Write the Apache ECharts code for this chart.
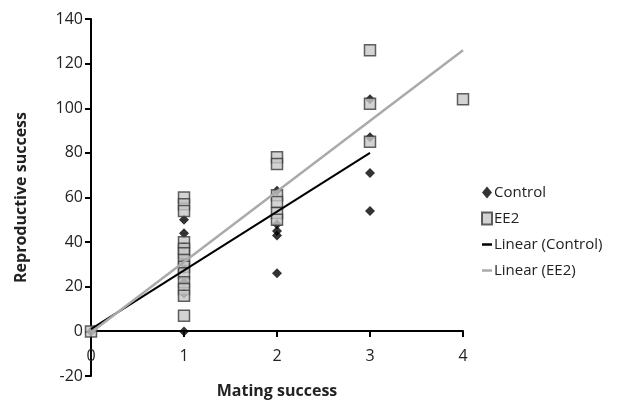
<!DOCTYPE html>
<html><head><meta charset="utf-8">
<script src="https://cdn.jsdelivr.net/npm/echarts@6/dist/echarts.min.js"></script>
<style>html,body{margin:0;padding:0;background:#fff}#c{width:617px;height:400px}</style>
</head><body><div id="c"></div>
<script>
// Control: [mating success, reproductive success]
var controlData = [
  [0,0],[1,0],[1,50],[1,44],[1,38],[1,33],[1,28],[1,22],[1,17],
  [2,63],[2,48],[2,45],[2,43],[2,26],
  [3,104],[3,87],[3,71],[3,54]
];
var ee2Data = [
  [0,0],[1,60],[1,57],[1,54],[1,40],[1,37],[1,35],[1,32],[1,29],[1,26],[1,22],[1,19],[1,16],[1,7],
  [2,78],[2,75],[2,61],[2,58],[2,53],[2,50],
  [3,126],[3,102],[3,85],
  [4,104]
];
var controlTrend = [[0,1],[3,80]];
var ee2Trend = [[0,-0.5],[4,126]];
var seriesNames = ['Control','EE2','Linear (Control)','Linear (EE2)'];

var font = 'Open Sans';
var lineIcon = 'path://M0,0L10,0L10,2.5L0,2.5Z';
var chart = echarts.init(document.getElementById('c'));
chart.setOption({
  animation:false,
  textStyle:{fontFamily:font},
  grid:{left:91,right:154,top:19,bottom:24,containLabel:false,outerBoundsMode:'none'},
  legend:{
    orient:'vertical', left:476, top:180, itemGap:11,
    itemWidth:10, itemHeight:12,
    textStyle:{fontFamily:font,fontSize:15,color:'#222',padding:[0,0,0,-3]},
    data:[
      {name:seriesNames[0],icon:'diamond'},
      {name:seriesNames[1],icon:'rect'},
      {name:seriesNames[2],icon:lineIcon},
      {name:seriesNames[3],icon:lineIcon}
    ]
  },
  xAxis:{
    type:'value', min:0, max:4, interval:1, offset:-45,
    name:'Mating success', nameLocation:'middle', nameGap:52,
    nameTextStyle:{fontFamily:font,fontSize:16,fontWeight:'bold',color:'#222'},
    axisLine:{onZero:false,lineStyle:{color:'#000',width:2}},
    axisTick:{show:true,length:6,lineStyle:{color:'#000',width:2}},
    axisLabel:{margin:17,fontFamily:font,fontSize:16,color:'#222'},
    splitLine:{show:false}
  },
  yAxis:{
    type:'value', min:-20, max:140, interval:20,
    name:'Reproductive success', nameLocation:'middle', nameGap:62,
    nameTextStyle:{fontFamily:font,fontSize:16,fontWeight:'bold',color:'#222'},
    axisLine:{show:true,onZero:true,lineStyle:{color:'#000',width:2}},
    axisTick:{show:true,length:6,lineStyle:{color:'#000',width:2}},
    axisLabel:{margin:8,fontFamily:font,fontSize:16,color:'#222'},
    splitLine:{show:false}
  },
  series:[
    {name:seriesNames[0],type:'scatter',data:controlData,symbol:'diamond',symbolSize:10,
     itemStyle:{color:'#000'},z:2},
    {name:seriesNames[1],type:'scatter',data:ee2Data,symbol:'rect',symbolSize:11,
     itemStyle:{color:'#c8c8c8',borderColor:'#3a3a3a',borderWidth:1.5},z:3},
    {name:seriesNames[2],type:'line',data:controlTrend,showSymbol:false,symbol:'none',
     lineStyle:{color:'#000',width:2},itemStyle:{color:'#000'},z:4},
    {name:seriesNames[3],type:'line',data:ee2Trend,showSymbol:false,symbol:'none',
     lineStyle:{color:'#aaaaaa',width:2.5},itemStyle:{color:'#aaaaaa'},z:4}
  ]
});
</script></body></html>
